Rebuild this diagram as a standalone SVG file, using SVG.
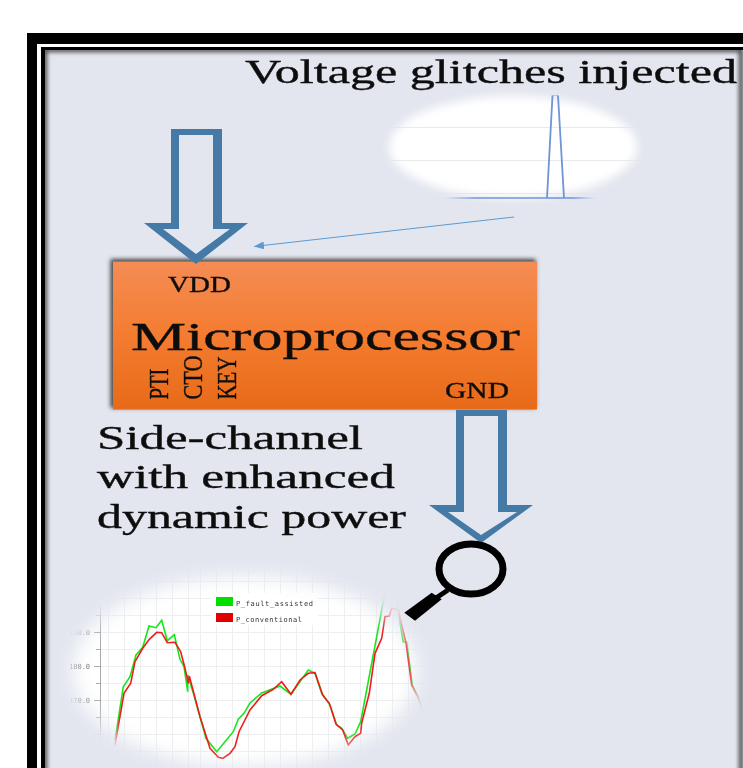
<svg xmlns="http://www.w3.org/2000/svg" width="743" height="768" viewBox="0 0 743 768">
<style>
text{font-family:"Liberation Serif","Times New Roman",serif;fill:#0c0c0c;stroke:#0c0c0c;stroke-width:.35px}
.t{font-size:33px}
.pin{font-size:23px}
.rot{font-size:28px}
.blk{fill:#000}
.big{fill:#457aa6;fill-rule:evenodd}
.grid{stroke:#eeeff1;stroke-width:1;fill:none}
.gridm{stroke:#e8e9eb;stroke-width:1;fill:none}
text.leg{font-family:"DejaVu Sans Mono",monospace;font-size:7px;fill:#333;stroke:none}
text.ax{font-family:"DejaVu Sans Mono",monospace;font-size:7px;fill:#777;stroke:none}
</style>
<defs>
<linearGradient id="og" x1="0" y1="0" x2="0" y2="1"><stop offset="0" stop-color="#f48c55"/><stop offset=".5" stop-color="#f47c30"/><stop offset="1" stop-color="#e76a18"/></linearGradient>
<linearGradient id="base" gradientUnits="userSpaceOnUse" x1="445" y1="0" x2="595" y2="0"><stop offset="0" stop-color="#6f94d8" stop-opacity="0"/><stop offset=".2" stop-color="#6f94d8"/><stop offset=".85" stop-color="#6f94d8"/><stop offset="1" stop-color="#6f94d8" stop-opacity="0"/></linearGradient>
<filter id="b8" x="-20%" y="-20%" width="140%" height="140%"><feGaussianBlur stdDeviation="9"/></filter>
<filter id="b4" x="-20%" y="-20%" width="140%" height="140%"><feGaussianBlur stdDeviation="5"/></filter>
<filter id="b2" x="-5%" y="-5%" width="110%" height="110%"><feGaussianBlur stdDeviation="2.2"/></filter>
<filter id="soft" x="-5%" y="-5%" width="110%" height="110%"><feGaussianBlur stdDeviation="0.5"/></filter>
<clipPath id="panel"><rect x="45" y="50" width="698" height="718"/></clipPath>
<mask id="chartMask" maskUnits="userSpaceOnUse" x="0" y="500" width="743" height="268"><ellipse cx="245" cy="671" rx="172" ry="95" fill="#fff" filter="url(#b8)"/></mask>
<mask id="glMask" maskUnits="userSpaceOnUse" x="340" y="60" width="340" height="170"><ellipse cx="513" cy="147" rx="124" ry="51" fill="#fff" filter="url(#b4)"/></mask>
<marker id="thin" markerUnits="userSpaceOnUse" markerWidth="11" markerHeight="8" refX="10" refY="4" orient="auto"><path d="M0 0L10 4L0 8z" fill="#5b9bd5"/></marker>
</defs>
<rect width="743" height="768" fill="#fff"/>
<g id="frame">
<rect x="27" y="33" width="730" height="750" fill="#000"/>
<rect x="37" y="44" width="720" height="740" fill="#fff"/>
<rect x="41" y="47" width="720" height="740" fill="#000"/>
<rect x="45" y="50" width="710" height="730" fill="#e3e6ef"/>
<g clip-path="url(#panel)"><rect x="45" y="50" width="696" height="760" fill="none" stroke="#3c3c3c" stroke-width="4" filter="url(#b2)"/></g>
</g>
<g id="glitch-plot">
<g mask="url(#glMask)">
<rect x="360" y="70" width="310" height="150" fill="#fff"/>
<path class="gridm" d="M390 127.5H642M390 160.5H642M390 193.5H642"/>
</g>
<path d="M445 198H595" fill="none" stroke="url(#base)" stroke-width="1.3"/>
<path d="M547 198L552.500 95.500M558 95.500L564 198" fill="none" stroke="#6f94d8" stroke-width="1.8"/>
<path d="M552.500 95.500H558" fill="none" stroke="#6f94d8" stroke-width="1" opacity=".4"/>
</g>
<g id="voltage-label" filter="url(#soft)"><text class="t" x="245" y="83" textLength="492" lengthAdjust="spacingAndGlyphs">Voltage glitches injected</text></g>
<g id="microprocessor">
<rect x="110.500" y="259" width="425" height="149" fill="#444" filter="url(#b2)"/>
<rect x="113" y="261.500" width="424" height="148" fill="url(#og)"/>
<g filter="url(#soft)">
<text x="131" y="350" font-size="41" textLength="389" lengthAdjust="spacingAndGlyphs">Microprocessor</text>
<text class="pin" x="168" y="292" textLength="63" lengthAdjust="spacingAndGlyphs">VDD</text>
<text class="pin" x="445" y="398" textLength="64" lengthAdjust="spacingAndGlyphs">GND</text>
<text class="rot" transform="translate(168 399.500) rotate(-90)" textLength="31" lengthAdjust="spacingAndGlyphs">PTI</text>
<text class="rot" transform="translate(201.500 399.500) rotate(-90)" textLength="44" lengthAdjust="spacingAndGlyphs">CTO</text>
<text class="rot" transform="translate(236 399.500) rotate(-90)" textLength="43" lengthAdjust="spacingAndGlyphs">KEY</text>
</g>
</g>
<g id="connectors">
<path class="big" d="M171 129H222V223H248L196 264L144 223H171zM179 135V229H163L196 254L230 229H213V135z"/>
<path class="big" d="M456 410H507V505H533L481 543L429 505H456zM464 416V512H448L481 535L517 512H498V416z"/>
<path d="M514 217L254 246.500" fill="none" stroke="#5b9bd5" stroke-width="1" marker-end="url(#thin)"/>
</g>
<g id="side-channel-label" filter="url(#soft)">
<text class="t" x="97" y="449" textLength="266" lengthAdjust="spacingAndGlyphs">Side-channel</text>
<text class="t" x="97" y="488" textLength="298" lengthAdjust="spacingAndGlyphs">with enhanced</text>
<text class="t" x="97" y="528" textLength="309" lengthAdjust="spacingAndGlyphs">dynamic power</text>
</g>
<g id="power-chart" filter="url(#soft)">
<g mask="url(#chartMask)">
<rect x="40" y="540" width="420" height="228" fill="#fff"/>
<path class="grid" d="M101 615.500H430M101 632.500H430M101 649.500H430M101 666.500H430M101 683.500H430M101 700.500H430M101 717.500H430M101 734.500H430M101 751.500H430M101 598.500H430M101 581.500H430"/>
<path class="grid" d="M108.500 570V768M124.500 570V768M140.500 570V768M156.500 570V768M172.500 570V768M188.500 570V768M200.500 570V768M216.500 570V768M232.500 570V768M248.500 570V768M264.500 570V768M280.500 570V768M296.500 570V768M312.500 570V768M328.500 570V768M344.500 570V768M360.500 570V768M376.500 570V768M392.500 570V768M408.500 570V768"/>
<path d="M100.500 606V745M96 615.500H101M94 632.500H101M96 649.500H101M94 666.500H101M96 683.500H101M94 700.500H101M96 717.500H101M94 734.500H101" fill="none" stroke="#aaa" stroke-width="1"/>
<text class="ax" x="69" y="635">190.0</text>
<text class="ax" x="69" y="668.500">180.0</text>
<text class="ax" x="69" y="702.500">170.0</text>
<path d="M115 740L123.300 686.700L130 676.700L136 655L142.700 647.300L149 626L156 627.700L161.700 620.300L167.300 640.700L174.300 634.700L180 659.300L184 666.700L187.700 691.700L187.700 675L193.300 693L206 738.300L216.700 751.700L233.300 731.700L238.300 719.300L244 713.300L250 703L261.700 693L280 686L291 694.300L308.300 670L315 673.300L321.700 693.300L330 705L336.700 725L341.700 728.300L347.700 738.300L355 734L360.700 721.700L383.300 601.700L387 585L396 585L400 623L403.300 641.700L406.700 642.300L412.300 685L418.300 696.700L423 712" fill="none" stroke="#16e61c" stroke-width="1.6"/>
<path d="M115 745L124 693.300L130.700 683.300L135 661.700L142.700 648.300L149.300 639.300L156.700 632.300L161.700 632.700L167.300 642.700L175 642.300L180.700 651.700L185 668.300L188.300 683.300L189.300 676L200 716.700L210 748.300L218.300 757.300L222.700 758.300L230 753.300L235 746.700L239 731.700L250 710L261.700 695.700L273.300 689.300L281.700 681.700L291 694.300L300 680L308.300 673.300L315 672.700L322.700 695L329.300 703.300L336 724L342.700 730L348.300 745L355 736.700L360.700 733.300L361.700 723L369.300 693.300L375 653.300L381.700 638.300L385 616.700L389.300 616L391.700 608L398.300 610L406 643L411.700 685L418.300 698L423 712" fill="none" stroke="#ee1c1c" stroke-width="1.6"/>
<rect x="212" y="593" width="106" height="32" fill="#fff"/>
<rect x="216" y="597" width="17" height="9" fill="#00e000"/>
<rect x="216" y="613" width="17" height="9" fill="#e00000"/>
<text class="leg" x="236" y="606" textLength="77">P_fault_assisted</text>
<text class="leg" x="236" y="621.500" textLength="66">P_conventional</text>
</g>
</g>
<g id="magnifier">
<ellipse cx="471" cy="569" rx="32" ry="25" fill="none" stroke="#000" stroke-width="7"/>
<path d="M448 590L436 598" stroke="#000" stroke-width="5" fill="none"/>
<path class="blk" d="M404.300 612.700L431.700 592.700L441.700 599.300L415 620.700z"/>
</g>
</svg>
